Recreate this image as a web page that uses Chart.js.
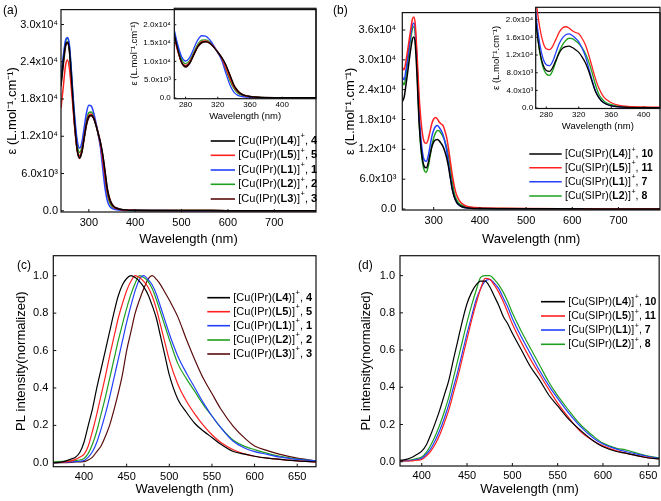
<!DOCTYPE html>
<html><head><meta charset="utf-8">
<script src="https://cdn.jsdelivr.net/npm/chart.js@4.4.0/dist/chart.umd.min.js"></script>
<style>
html,body{margin:0;padding:0;background:#fff;}
#wrap{position:relative;width:661px;height:501px;overflow:hidden;background:#fff;}
canvas{position:absolute;left:0;top:0;}
.pl{position:absolute;font:12px "Liberation Sans",Arial,sans-serif;color:#000;line-height:12px;}
</style></head><body>
<div id="wrap">
<canvas id="ca" width="661" height="501"></canvas>
<canvas id="cb" width="661" height="501"></canvas>
<canvas id="cc" width="661" height="501"></canvas>
<canvas id="cd" width="661" height="501"></canvas>
<canvas id="cai" width="661" height="501"></canvas>
<canvas id="cbi" width="661" height="501"></canvas>
<div class="pl" style="left:3px;top:4px">(a)</div>
<div class="pl" style="left:333px;top:4px">(b)</div>
<div class="pl" style="left:17px;top:259px">(c)</div>
<div class="pl" style="left:358px;top:259px">(d)</div>
</div>
<script>
const FONT = '"Liberation Sans", Arial, sans-serif';
const BLACK = '#000000', RED = '#ff2020', BLUE = '#2440ff', GREEN = '#1fa01f', BROWN = '#5a0c0c';

// ---------- (a) UV-vis, IPr complexes (epsilon in units of 1e3) ----------
const WL_A = [240,245,250,254,258,262,266,270,275,280,285,290,295,300,305,310,315,320,325,330,335,340,345,350,355,360,370,380,400,450,500,600,700,790];
const A_L4 = [20.5,24.0,26.8,27.2,26.0,22.0,17.5,13.5,9.8,8.6,9.5,11.8,14.0,15.2,15.4,15.0,13.9,12.5,11.0,9.0,6.2,3.4,1.8,1.0,0.6,0.4,0.2,0.12,0.08,0.05,0.03,0.02,0.01,0.0];
const A_L5 = [16.5,20.0,23.5,24.3,23.0,20.0,16.5,13.0,9.8,8.9,9.8,12.0,14.2,15.4,15.6,15.1,14.0,12.5,10.8,8.2,5.4,3.0,1.6,0.9,0.5,0.35,0.18,0.1,0.06,0.04,0.03,0.02,0.01,0.0];
const A_L1 = [21.5,25.0,27.5,27.9,26.8,23.0,18.5,14.8,11.3,10.1,11.0,13.4,15.8,17.0,16.9,15.9,14.3,12.4,10.2,6.8,3.6,1.6,0.7,0.4,0.25,0.18,0.1,0.06,0.04,0.03,0.02,0.01,0.01,0.0];
const A_L2 = [21.0,24.5,27.3,27.8,26.5,22.8,18.2,14.2,10.6,9.4,10.2,12.4,14.6,15.8,15.9,15.3,14.0,12.4,10.6,7.8,4.8,2.6,1.3,0.7,0.45,0.3,0.15,0.1,0.06,0.04,0.03,0.02,0.01,0.0];
const A_L3 = [20.0,23.5,26.5,27.0,25.8,21.8,17.2,13.2,9.6,8.4,9.4,11.6,13.8,15.0,15.3,14.9,13.9,12.6,11.0,9.0,6.4,3.6,2.0,1.1,0.65,0.45,0.22,0.13,0.08,0.05,0.03,0.02,0.01,0.0];

// ---------- (b) UV-vis, SIPr complexes (epsilon in units of 1e3) ----------
const WL_B = [232,236,240,245,250,254,257,260,264,268,272,276,280,284,288,292,296,300,304,308,312,316,320,324,328,332,336,340,345,350,355,360,370,380,400,450,500,600,700,790];
const B_L4 = [21.6,22.5,25.0,28.5,32.0,34.2,34.6,33.2,26.5,18.0,12.8,9.8,8.5,8.3,9.2,10.9,12.5,13.5,13.9,14.0,13.7,13.2,12.6,11.6,10.3,8.5,6.2,4.0,2.3,1.3,0.8,0.5,0.25,0.15,0.1,0.06,0.04,0.03,0.02,0.01];
const B_L5 = [28.5,28.0,29.8,32.8,36.0,38.2,38.6,37.2,31.0,23.5,18.2,14.9,13.4,13.2,14.0,15.6,17.2,18.1,18.4,18.1,17.5,17.1,16.8,15.8,14.4,12.2,9.6,7.0,4.4,2.7,1.8,1.2,0.6,0.4,0.25,0.15,0.1,0.06,0.04,0.03];
const B_L1 = [26.6,26.0,28.0,31.5,35.0,37.0,37.4,36.0,29.5,20.0,14.5,11.2,9.8,9.6,10.6,12.6,14.6,15.9,16.6,16.8,16.4,15.8,15.0,13.6,11.8,9.2,6.6,4.2,2.3,1.3,0.8,0.5,0.25,0.15,0.1,0.06,0.04,0.03,0.02,0.01];
const B_L2 = [25.6,25.0,27.0,30.8,34.2,36.3,36.7,35.2,28.5,18.8,12.6,9.2,7.7,7.4,8.5,10.6,12.8,14.3,15.3,15.8,15.7,15.2,14.6,13.7,12.4,10.6,8.3,5.6,3.0,1.8,1.1,0.8,0.4,0.25,0.15,0.08,0.05,0.04,0.03,0.02];

// ---------- (c) PL, IPr complexes ----------
const WL_C = [364,375,385,390,395,400,405,410,415,420,425,430,435,440,445,450,455,460,465,470,475,480,485,490,495,500,510,520,530,540,550,560,575,590,600,615,630,650,672];
const C_L4 = [0.0,0.005,0.02,0.03,0.055,0.11,0.2,0.29,0.4,0.5,0.6,0.7,0.8,0.89,0.95,0.985,1.0,0.99,0.97,0.94,0.9,0.84,0.77,0.67,0.57,0.47,0.34,0.27,0.21,0.17,0.135,0.1,0.06,0.045,0.035,0.025,0.018,0.01,0.005];
const C_L5 = [0.0,0.003,0.01,0.018,0.03,0.045,0.09,0.17,0.26,0.36,0.46,0.57,0.67,0.77,0.85,0.92,0.97,1.0,0.99,0.97,0.94,0.89,0.82,0.73,0.64,0.55,0.42,0.33,0.26,0.2,0.15,0.11,0.07,0.045,0.035,0.025,0.018,0.01,0.005];
const C_L1 = [0.0,0.002,0.005,0.006,0.008,0.012,0.03,0.06,0.11,0.18,0.26,0.35,0.45,0.55,0.65,0.75,0.84,0.92,0.98,1.0,0.98,0.95,0.9,0.83,0.76,0.69,0.57,0.48,0.4,0.32,0.25,0.19,0.115,0.075,0.06,0.045,0.03,0.018,0.01];
const C_L2 = [0.005,0.008,0.01,0.012,0.015,0.023,0.05,0.1,0.17,0.26,0.35,0.45,0.55,0.65,0.74,0.825,0.9,0.96,1.0,0.99,0.97,0.93,0.87,0.8,0.73,0.66,0.53,0.45,0.38,0.31,0.25,0.19,0.12,0.085,0.07,0.05,0.035,0.02,0.01];
const C_L3 = [0.0,0.0,0.002,0.004,0.005,0.006,0.015,0.03,0.06,0.09,0.14,0.2,0.28,0.37,0.47,0.6,0.7,0.8,0.87,0.93,0.98,1.0,0.98,0.95,0.91,0.87,0.78,0.66,0.55,0.45,0.37,0.29,0.195,0.125,0.09,0.065,0.045,0.025,0.01];

// ---------- (d) PL, SIPr complexes ----------
const WL_D = [376,380,385,390,395,400,405,410,415,420,425,430,435,440,445,450,455,460,465,470,475,480,485,490,495,500,510,520,530,540,550,560,575,590,600,615,625,640,650,662];
const D_L4 = [0.008,0.01,0.015,0.025,0.04,0.057,0.09,0.146,0.21,0.28,0.36,0.44,0.55,0.655,0.76,0.85,0.91,0.95,0.97,0.97,0.94,0.89,0.84,0.78,0.74,0.69,0.6,0.51,0.44,0.36,0.3,0.24,0.17,0.11,0.08,0.055,0.046,0.03,0.02,0.015];
const D_L5 = [0.003,0.004,0.004,0.005,0.008,0.012,0.03,0.057,0.095,0.146,0.21,0.28,0.37,0.46,0.56,0.66,0.76,0.85,0.93,0.985,0.98,0.95,0.91,0.86,0.8,0.74,0.64,0.55,0.47,0.39,0.315,0.25,0.163,0.11,0.085,0.058,0.046,0.03,0.022,0.015];
const D_L1 = [0.003,0.004,0.005,0.008,0.012,0.018,0.04,0.07,0.115,0.17,0.235,0.31,0.4,0.49,0.59,0.69,0.78,0.87,0.93,0.97,0.98,0.96,0.93,0.88,0.83,0.77,0.67,0.58,0.49,0.41,0.34,0.275,0.19,0.125,0.095,0.068,0.055,0.038,0.028,0.018];
const D_L2 = [0.005,0.006,0.008,0.012,0.018,0.025,0.05,0.09,0.14,0.2,0.27,0.35,0.45,0.55,0.65,0.75,0.84,0.92,0.99,1.0,1.0,0.98,0.95,0.91,0.86,0.8,0.7,0.61,0.52,0.43,0.355,0.29,0.2,0.135,0.1,0.072,0.064,0.042,0.03,0.02];

// ---------- legend labels (parts: normal, bold, normal, superscript, normal, bold) ----------
const LEG_IPR = [
  ['[Cu(IPr)(','L4',')]','+',', ','4'],
  ['[Cu(IPr)(','L5',')]','+',', ','5'],
  ['[Cu(IPr)(','L1',')]','+',', ','1'],
  ['[Cu(IPr)(','L2',')]','+',', ','2'],
  ['[Cu(IPr)(','L3',')]','+',', ','3']
];
const LEG_SIPR = [
  ['[Cu(SIPr)(','L4',')]','+',', ','10'],
  ['[Cu(SIPr)(','L5',')]','+',', ','11'],
  ['[Cu(SIPr)(','L1',')]','+',', ','7'],
  ['[Cu(SIPr)(','L2',')]','+',', ','8']
];

// ---------- ticks ----------
const UV_X_TICKS = [300,400,500,600,700];
const INSET_X_TICKS = [280,320,360,400];
const A_Y_TICKS = [0,6,12,18,24,30];
const A_Y_LABELS = ['0.0','6.0x10³','1.2x10⁴','1.8x10⁴','2.4x10⁴','3.0x10⁴'];
const B_Y_TICKS = [0,6,12,18,24,30,36];
const B_Y_LABELS = ['0.0','6.0x10³','1.2x10⁴','1.8x10⁴','2.4x10⁴','3.0x10⁴','3.6x10⁴'];
const AI_Y_TICKS = [0,5,10,15,20];
const AI_Y_LABELS = ['0.0','5.0x10³','1.0x10⁴','1.5x10⁴','2.0x10⁴'];
const BI_Y_TICKS = [0,4,8,12,16,20];
const BI_Y_LABELS = ['0.0','4.0x10³','8.0x10³','1.2x10⁴','1.6x10⁴','2.0x10⁴'];
const PL_X_TICKS = [400,450,500,550,600,650];
const PL_Y_TICKS = [0,0.2,0.4,0.6,0.8,1.0];
const PL_Y_LABELS = ['0.0','0.2','0.4','0.6','0.8','1.0'];

const EPS_TITLE = 'ε (L.mol⁻¹.cm⁻¹)';
const WL_TITLE = 'Wavelength (nm)';
const PL_TITLE = 'PL intensity(normalized)';

const deco = {
  id: 'deco',
  afterDatasetsDraw(chart, args, o) {
    const {ctx, chartArea: a} = chart;
    const x = chart.scales.x, y = chart.scales.y;
    ctx.save();
    ctx.strokeStyle = '#111';
    ctx.lineWidth = 1.2;
    ctx.strokeRect(a.left, a.top, a.right - a.left, a.bottom - a.top);
    const t = o.tickLen;
    ctx.lineWidth = 1;
    ctx.beginPath();
    x.ticks.forEach(tk => { const px = x.getPixelForValue(tk.value); ctx.moveTo(px, a.bottom); ctx.lineTo(px, a.bottom - t); });
    y.ticks.forEach(tk => { const py = y.getPixelForValue(tk.value); ctx.moveTo(a.left, py); ctx.lineTo(a.left + t, py); });
    ctx.stroke();
    const L = o.legend;
    if (L) {
      const styles = ['', 'bold ', '', 'sup', '', 'bold '];
      chart.data.datasets.forEach((ds, i) => {
        const yy = L.rows[i];
        ctx.strokeStyle = ds.borderColor; ctx.lineWidth = 1.6;
        ctx.beginPath(); ctx.moveTo(L.x1, yy); ctx.lineTo(L.x2, yy); ctx.stroke();
        let xx = L.tx; const fs = L.size;
        ctx.fillStyle = '#000'; ctx.textBaseline = 'middle'; ctx.textAlign = 'left';
        L.parts[i].forEach((p, k) => {
          const st = styles[k];
          if (st === 'sup') {
            ctx.font = (fs * 0.68) + 'px ' + FONT;
            ctx.fillText(p, xx + 0.5, yy - fs * 0.42);
            xx += ctx.measureText(p).width + 0.5;
          } else {
            ctx.font = st + fs + 'px ' + FONT;
            ctx.fillText(p, xx, yy);
            xx += ctx.measureText(p).width;
          }
        });
      });
    }
    ctx.restore();
  }
};

function build(id, c) {
  const lh = c.titleSize * 1.2;
  const yW = c.area[0] - c.yTitleX + lh / 2;
  const xH = c.xTitleY + lh / 2 - c.area[3];
  const padding = {left: c.area[0] - yW, top: c.area[1], right: 661 - c.area[2], bottom: 501 - c.area[3] - xH};
  const datasets = c.series.map(s => ({
    label: s.parts.join(''),
    data: c.wl.map((w, i) => ({x: w, y: s.vals[i]})),
    borderColor: s.color, backgroundColor: s.color,
    borderWidth: c.lw, pointRadius: 0, fill: false,
    cubicInterpolationMode: 'monotone'
  }));
  const tickFont = {family: FONT, size: c.tickSize};
  const titleFont = {family: FONT, size: c.titleSize};
  return new Chart(document.getElementById(id), {
    type: 'line',
    data: {datasets},
    options: {
      responsive: false, animation: false, devicePixelRatio: 1,
      layout: {autoPadding: false, padding},
      plugins: {legend: {display: false}, tooltip: {enabled: false},
        deco: {tickLen: c.tickLen, legend: c.legend}},
      scales: {
        x: {
          type: 'linear', min: c.xRange[0], max: c.xRange[1],
          afterFit: s => { s.height = xH; },
          afterBuildTicks: s => { s.ticks = c.xTicks.map(v => ({value: v})); },
          ticks: {font: tickFont, color: '#000', padding: c.xPad, maxRotation: 0, autoSkip: false,
            callback: v => String(v)},
          grid: {display: false, drawTicks: false},
          border: {display: false},
          title: {display: true, text: WL_TITLE, font: titleFont, color: '#000', padding: 0}
        },
        y: {
          type: 'linear', min: c.yRange[0], max: c.yRange[1],
          afterFit: s => { s.width = yW; },
          afterBuildTicks: s => { s.ticks = c.yTicks.map(v => ({value: v})); },
          ticks: {font: tickFont, color: '#000', padding: c.yPad, autoSkip: false,
            callback: (v, i) => c.yLabels[i]},
          grid: {display: false, drawTicks: false},
          border: {display: false},
          title: {display: true, text: c.yTitle, font: titleFont, color: '#000', padding: 0}
        }
      }
    },
    plugins: [deco]
  });
}

const SER_A = [
  {parts: LEG_IPR[0], vals: A_L4, color: BLACK},
  {parts: LEG_IPR[1], vals: A_L5, color: RED},
  {parts: LEG_IPR[2], vals: A_L1, color: BLUE},
  {parts: LEG_IPR[3], vals: A_L2, color: GREEN},
  {parts: LEG_IPR[4], vals: A_L3, color: BROWN}
];
const SER_B = [
  {parts: LEG_SIPR[0], vals: B_L4, color: BLACK},
  {parts: LEG_SIPR[1], vals: B_L5, color: RED},
  {parts: LEG_SIPR[2], vals: B_L1, color: BLUE},
  {parts: LEG_SIPR[3], vals: B_L2, color: GREEN}
];
const SER_C = [
  {parts: LEG_IPR[0], vals: C_L4, color: BLACK},
  {parts: LEG_IPR[1], vals: C_L5, color: RED},
  {parts: LEG_IPR[2], vals: C_L1, color: BLUE},
  {parts: LEG_IPR[3], vals: C_L2, color: GREEN},
  {parts: LEG_IPR[4], vals: C_L3, color: BROWN}
];
const SER_D = [
  {parts: LEG_SIPR[0], vals: D_L4, color: BLACK},
  {parts: LEG_SIPR[1], vals: D_L5, color: RED},
  {parts: LEG_SIPR[2], vals: D_L1, color: BLUE},
  {parts: LEG_SIPR[3], vals: D_L2, color: GREEN}
];

build('ca', {
  area: [61, 4, 316, 212], yTitleX: 12, xTitleY: 239.3, titleSize: 13, tickSize: 11,
  xPad: 4, yPad: 3, tickLen: 3, lw: 1.5,
  xRange: [240, 790], yRange: [-0.2, 32.4], xTicks: UV_X_TICKS, yTicks: A_Y_TICKS, yLabels: A_Y_LABELS,
  yTitle: EPS_TITLE, wl: WL_A, series: SER_A,
  legend: {x1: 210.7, x2: 235, tx: 238.3, rows: [141, 155.3, 170, 184.3, 199], size: 11, parts: LEG_IPR}
});
build('cai', {
  area: [174.3, 4, 316, 98.7], yTitleX: 134, xTitleY: 116.7, titleSize: 9.5, tickSize: 8,
  xPad: 1.5, yPad: 3.5, tickLen: 2, lw: 1.3,
  xRange: [266, 442], yRange: [-0.2, 24.5], xTicks: INSET_X_TICKS, yTicks: AI_Y_TICKS, yLabels: AI_Y_LABELS,
  yTitle: EPS_TITLE, wl: WL_A, series: SER_A, legend: null
});
build('cb', {
  area: [402.3, 1, 660, 210], yTitleX: 350, xTitleY: 239.3, titleSize: 13, tickSize: 11,
  xPad: 4, yPad: 6, tickLen: 3, lw: 1.5,
  xRange: [232, 790], yRange: [-0.2, 39.5], xTicks: UV_X_TICKS, yTicks: B_Y_TICKS, yLabels: B_Y_LABELS,
  yTitle: EPS_TITLE, wl: WL_B, series: SER_B,
  legend: {x1: 529.3, x2: 561.7, tx: 565, rows: [154, 167.7, 181.7, 196], size: 10.5, parts: LEG_SIPR}
});
build('cbi', {
  area: [535.7, 1.7, 660, 108.5], yTitleX: 496.7, xTitleY: 126.7, titleSize: 9.5, tickSize: 8,
  xPad: 1.7, yPad: 2.5, tickLen: 2, lw: 1.3,
  xRange: [267, 420], yRange: [-0.1, 22.8], xTicks: INSET_X_TICKS, yTicks: BI_Y_TICKS, yLabels: BI_Y_LABELS,
  yTitle: EPS_TITLE, wl: WL_B, series: SER_B, legend: null
});
build('cc', {
  area: [53.3, 255.7, 316, 466.7], yTitleX: 21.7, xTitleY: 489.3, titleSize: 13, tickSize: 11,
  xPad: 3.5, yPad: 5, tickLen: 3, lw: 1.2,
  xRange: [364, 672], yRange: [-0.021, 1.107], xTicks: PL_X_TICKS, yTicks: PL_Y_TICKS, yLabels: PL_Y_LABELS,
  yTitle: PL_TITLE, wl: WL_C, series: SER_C,
  legend: {x1: 207.3, x2: 230, tx: 233.3, rows: [297.7, 311.7, 325.7, 340, 354], size: 11, parts: LEG_IPR}
});
build('cd', {
  area: [400, 255.7, 660, 466], yTitleX: 366.7, xTitleY: 489.3, titleSize: 13, tickSize: 11,
  xPad: 3.5, yPad: 5, tickLen: 3, lw: 1.2,
  xRange: [376, 662], yRange: [-0.023, 1.107], xTicks: PL_X_TICKS, yTicks: PL_Y_TICKS, yLabels: PL_Y_LABELS,
  yTitle: PL_TITLE, wl: WL_D, series: SER_D,
  legend: {x1: 541, x2: 565, tx: 568.3, rows: [301.7, 316, 330, 344.3], size: 10.5, parts: LEG_SIPR}
});
</script>
</body></html>
